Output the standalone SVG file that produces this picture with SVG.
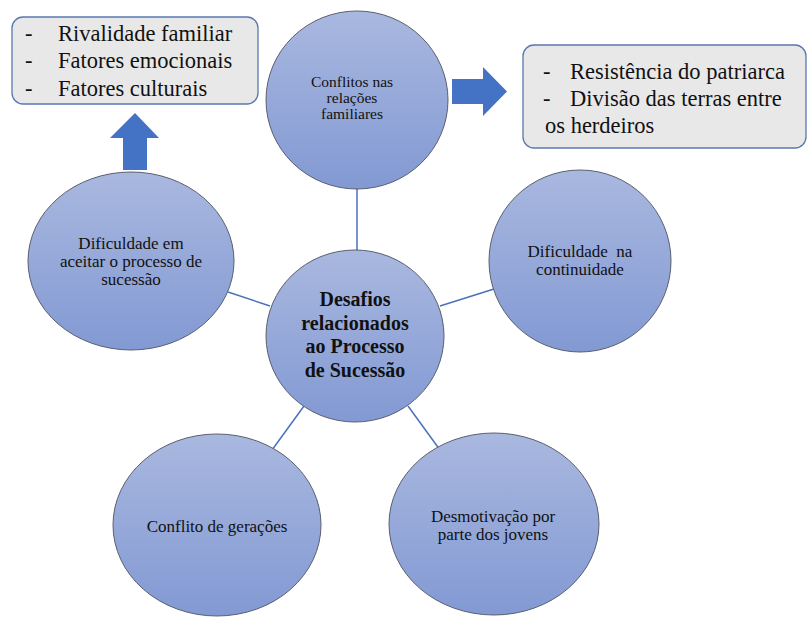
<svg xmlns="http://www.w3.org/2000/svg" width="807" height="617" viewBox="0 0 807 617">
  <defs>
    <linearGradient id="bubble" x1="0" y1="0" x2="0" y2="1">
      <stop offset="0" stop-color="#a9b8df"/>
      <stop offset="1" stop-color="#8299d3"/>
    </linearGradient>
    <style>
      .bubble { fill: url(#bubble); stroke: #5a5f6e; stroke-width: 1; }
      .note { fill: #e8e8e8; stroke: #5878b0; stroke-width: 1.3; }
      .link { stroke: #4a72b8; stroke-width: 1.5; fill: none; }
      .arrow { fill: #4472c4; }
      text { fill: #111; font-family: "Liberation Serif", "Times New Roman", serif; }
      .lbl { font-size: 17px; text-anchor: middle; }
      .small { font-size: 15.5px; }
      .hub { font-size: 20px; font-weight: bold; text-anchor: middle; }
      .item { font-size: 22.5px; }
    </style>
  </defs>

  <!-- connectors from the hub to each challenge -->
  <g id="connectors">
    <line class="link" x1="357" y1="186" x2="357" y2="252"/>
    <line class="link" x1="228" y1="292" x2="270" y2="306"/>
    <line class="link" x1="440" y1="306" x2="494" y2="289"/>
    <line class="link" x1="304" y1="406" x2="272" y2="450"/>
    <line class="link" x1="408" y1="406" x2="440" y2="450"/>
  </g>

  <!-- block arrows -->
  <g id="arrow-up">
    <polygon class="arrow" points="135,113 159,138 147,138 147,170 123,170 123,138 110,138"/>
  </g>
  <g id="arrow-right">
    <polygon class="arrow" points="452,79 483,79 483,67 507,91.5 483,116 483,104 452,104"/>
  </g>

  <g id="node-top">
    <ellipse class="bubble" cx="357" cy="100" rx="91" ry="89"/>
    <text class="lbl small" x="352" y="87">Conflitos nas</text>
    <text class="lbl small" x="352" y="103">relações</text>
    <text class="lbl small" x="352" y="119">familiares</text>
  </g>

  <g id="node-left">
    <ellipse class="bubble" cx="131" cy="261" rx="103" ry="89"/>
    <text class="lbl" x="131" y="249">Dificuldade em</text>
    <text class="lbl" x="131" y="267">aceitar o processo de</text>
    <text class="lbl" x="131" y="285">sucessão</text>
  </g>

  <g id="node-right">
    <ellipse class="bubble" cx="580" cy="261" rx="91" ry="91"/>
    <text class="lbl" x="580" y="257" xml:space="preserve">Dificuldade  na</text>
    <text class="lbl" x="580" y="275">continuidade</text>
  </g>

  <g id="node-bottom-left">
    <ellipse class="bubble" cx="217" cy="525" rx="104" ry="91"/>
    <text class="lbl" x="217" y="532">Conflito de gerações</text>
  </g>

  <g id="node-bottom-right">
    <ellipse class="bubble" cx="494" cy="524" rx="105" ry="91"/>
    <text class="lbl" x="493" y="522">Desmotivação por</text>
    <text class="lbl" x="493" y="540">parte dos jovens</text>
  </g>

  <g id="node-center">
    <ellipse class="bubble" cx="355" cy="336" rx="89" ry="86"/>
    <text class="hub" x="355" y="306">Desafios</text>
    <text class="hub" x="355" y="330">relacionados</text>
    <text class="hub" x="355" y="353">ao Processo</text>
    <text class="hub" x="355" y="377">de Sucessão</text>
  </g>

  <g id="note-left">
    <rect class="note" x="12" y="17" width="246" height="87" rx="11"/>
    <text class="item" x="25" y="41">-</text>
    <text class="item" x="58" y="41">Rivalidade familiar</text>
    <text class="item" x="25" y="68">-</text>
    <text class="item" x="58" y="68">Fatores emocionais</text>
    <text class="item" x="25" y="96">-</text>
    <text class="item" x="58" y="96">Fatores culturais</text>
  </g>

  <g id="note-right">
    <rect class="note" x="523" y="45" width="283" height="103" rx="11"/>
    <text class="item" x="543" y="79">-</text>
    <text class="item" x="570" y="79">Resistência do patriarca</text>
    <text class="item" x="543" y="106">-</text>
    <text class="item" x="570" y="106">Divisão das terras entre</text>
    <text class="item" x="545" y="133">os herdeiros</text>
  </g>
</svg>
